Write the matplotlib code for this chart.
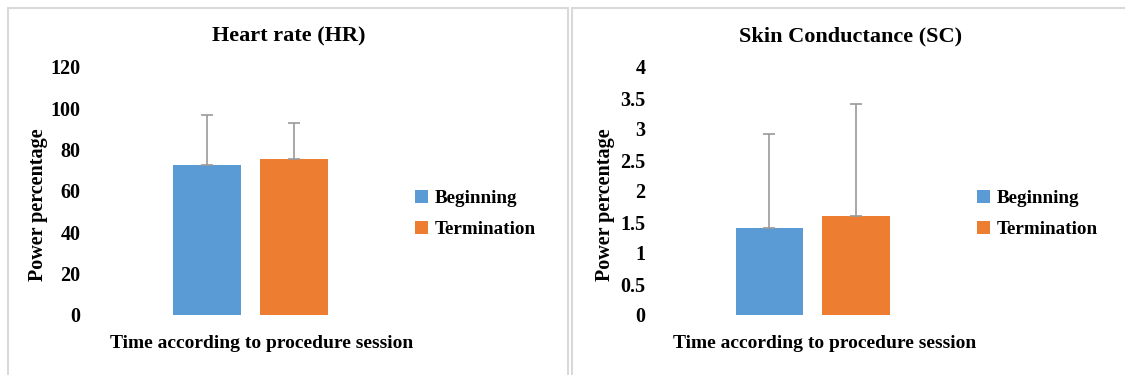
import matplotlib
matplotlib.use("Agg")
import matplotlib.pyplot as plt
from matplotlib.patches import Rectangle, Patch

plt.rcParams['font.family'] = ['Liberation Serif', 'DejaVu Serif']
plt.rcParams['font.weight'] = 'bold'

series = ["Beginning", "Termination"]
colors = ["#5B9BD5", "#ED7D31"]

hr_title = "Heart rate (HR)"
hr_values = [72.5, 75.5]
hr_err_upper = [24.3, 17.5]
hr_ticks = [0, 20, 40, 60, 80, 100, 120]

sc_title = "Skin Conductance (SC)"
sc_values = [1.40, 1.60]
sc_err_upper = [1.52, 1.80]
sc_ticks = [0, 0.5, 1, 1.5, 2, 2.5, 3, 3.5, 4]
sc_ticklabels = ["0", "0.5", "1", "1.5", "2", "2.5", "3", "3.5", "4"]

xlabel = "Time according to procedure session"
ylabel = "Power percentage"

W, H = 1125, 375
fig = plt.figure(figsize=(W / 100, H / 100), dpi=100)

def fx(px):
    return px / W

def fy(py):
    return 1 - py / H

# panel borders
for (x0, x1) in [(8, 568), (572, 1130)]:
    fig.patches.append(Rectangle((fx(x0), fy(380)), fx(x1 - x0), fy(8) - fy(380),
                                 transform=fig.transFigure, fill=False,
                                 edgecolor="#D9D9D9", linewidth=1.5))

def panel(ax_px, values, errs, ticks, ticklabels, ylim):
    x0, x1 = ax_px
    ax = fig.add_axes([fx(x0), fy(315), fx(x1 - x0), fy(67) - fy(315)])
    positions = [0, 1]
    for i in range(2):
        ax.bar(positions[i], values[i], width=0.78, color=colors[i], label=series[i],
               zorder=2)
        ax.errorbar(positions[i], values[i], yerr=[[0], [errs[i]]], fmt="none",
                    ecolor="#9A9A9A", elinewidth=1.2, capsize=4, capthick=1.2, zorder=3)
    ax.set_ylim(*ylim)
    ax.set_yticks(ticks)
    ax.set_yticklabels(ticklabels)
    ax.tick_params(axis="y", length=0, pad=7, labelsize=14.5)
    ax.set_xticks([])
    for s in ax.spines.values():
        s.set_visible(False)
    ax.patch.set_visible(False)
    return ax

axL = panel((90, 400), hr_values, hr_err_upper, hr_ticks, [str(t) for t in hr_ticks],
            (0, 120))
axL.set_xlim(-1.345, 2.218)
axR = panel((655, 965), sc_values, sc_err_upper, sc_ticks, sc_ticklabels, (0, 4))
axR.set_xlim(-1.32, 2.26)

for ax, title, tx, xlx, ylx, lgx in [(axL, hr_title, 289, 262, 38, 415),
                                     (axR, sc_title, 851, 825, 605, 977)]:
    fig.text(fx(tx), fy(36), title, ha="center", va="center", fontsize=16, fontweight="bold")
    fig.text(fx(xlx), fy(343), xlabel, ha="center", va="center", fontsize=14, fontweight="bold")
    fig.text(fx(ylx), fy(205), ylabel, ha="center", va="center", rotation=90,
             fontsize=14.5, fontweight="bold")
    handles = [Patch(facecolor=c, edgecolor="none") for c in colors]
    ax.legend(handles, series, loc="center left", bbox_to_anchor=(fx(lgx), fy(214)),
              bbox_transform=fig.transFigure, frameon=False, fontsize=13.8,
              handlelength=0.7, handleheight=0.7, handletextpad=0.35,
              labelspacing=0.7, borderaxespad=0, borderpad=0)

fig.savefig("out.png", dpi=100, facecolor="white")
